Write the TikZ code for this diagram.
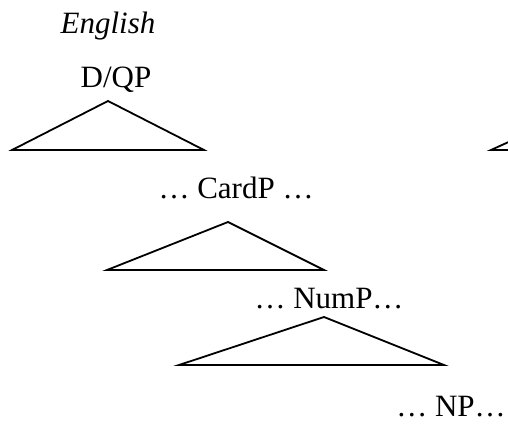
\documentclass[tikz,border=0pt]{standalone}
\usepackage{fontspec}
\setmainfont{Liberation Serif}
\begin{document}
\begin{tikzpicture}[x=1pt,y=-1pt,
  lbl/.style={anchor=base,inner sep=0pt,font=\fontsize{31}{34}\selectfont},
  tri/.style={draw,line width=1.8pt,line join=miter}]
\useasboundingbox (0,0) rectangle (508,423);
\clip (0,0) rectangle (508,423);
\node[lbl,font=\fontsize{31}{34}\selectfont\itshape] (eng) at (108,33) {English};
\node[lbl] (dqp) at (116,87) {D/QP};
\node[lbl] (card) at (236,198) {… CardP …};
\node[lbl] (num) at (329,308) {… NumP…};
\node[lbl] (np) at (451,416) {… NP…};
% triangles
\coordinate (a1) at (108,101);
\draw[tri] (a1) -- (12,150) -- (204,150) -- cycle;
\coordinate (a2) at (228,222);
\draw[tri] (a2) -- (107,270) -- (324,270) -- cycle;
\coordinate (a3) at (324,317);
\draw[tri] (a3) -- (179,365) -- (444,365) -- cycle;
\coordinate (a4) at (590,105);
\draw[tri] (a4) -- (491,150) -- (690,150) -- cycle;
\end{tikzpicture}
\end{document}
